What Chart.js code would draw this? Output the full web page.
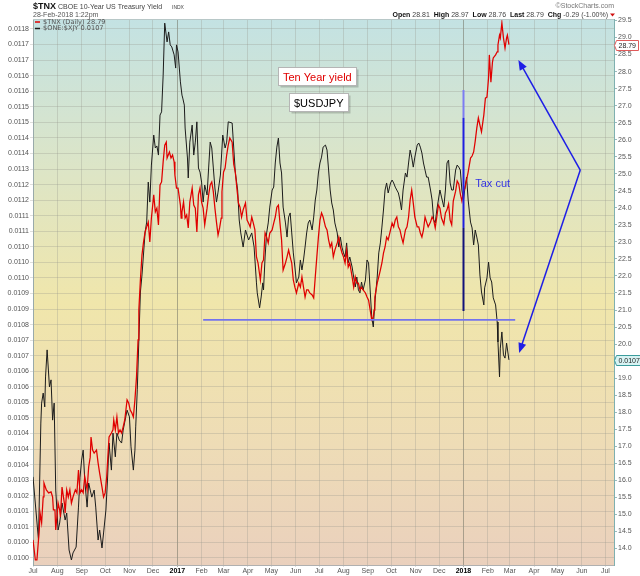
<!DOCTYPE html>
<html>
<head>
<meta charset="utf-8">
<script src="https://cdn.jsdelivr.net/npm/chart.js@4.4.1/dist/chart.umd.min.js"></script>
<style>
  html, body { margin: 0; padding: 0; background: #fff; }
  #wrap { width: 640px; height: 576px; }
</style>
</head>
<body>
<div id="wrap"><canvas id="chart" width="640" height="576"></canvas></div>
<script>
// x values are days counted from 1 Jul 2016
const tnxDays = [
  0,3,5,8,9,11,13,14,17,20,
  23,25,26,28,29,32,34,35,37,40,
  41,43,45,47,49,51,54,56,58,60,
  62,64,66,69,71,73,74,76,78,81,
  83,85,88,90,92,94,96,97,100,102,
  103,105,107,109,111,113,115,117,120,122,
  124,126,128,130,132,134,135,137,139,141,
  143,145,147,149,151,154,156,158,160,162,
  164,166,168,170,171,174,176,178,180,181,
  183,185,188,189,190,192,194,196,198,200,
  203,205,207,209,211,213,215,217,219,222,
  224,226,228,230,232,234,236,238,240,241,
  243,245,247,249,251,254,256,258,260,262,
  264,266,268,271,273,275,277,279,281,283,
  285,287,290,292,294,296,298,300,302,305,
  307,309,311,313,315,317,319,322,324,326,
  328,330,332,334,336,339,341,343,345,347,
  349,351,353,356,358,360,362,364,366,368,
  370,373,375,377,379,381,383,385,388,390,
  392,394,396,398,400,402,404,407,409,411,
  413,415,417,419,421,424,426,428,430,432,
  434,435,436,439,441,443,445,447,449,451,
  453,456,458,460,462,464,466,468,470,472,
  475,477,479,481,483,485,487,490,492,494,
  496,498,500,502,504,507,509,511,513,515,
  517,519,521,524,526,528,530,532,534,536,
  539,541,543,545,547,549,551,553,555,558,
  560,562,564,566,568,570,572,575,577,579,
  581,582,584,586,587,590,592,593,595,596,
  598,600,602,604,605,607
];
const tnxValues = [
  14.25,13.66,13.66,14.54,15.04,14.75,15.51,15.92,15.72,15.63,
  15.66,15.51,15.13,15.13,14.54,15.33,15.13,14.92,15.80,15.33,
  15.04,15.72,15.51,15.72,15.33,15.51,15.72,15.63,16.30,15.63,
  15.72,15.63,16.10,15.72,16.39,16.68,17.27,16.89,16.80,16.89,
  16.51,16.21,15.80,15.51,15.63,16.10,16.89,17.27,17.39,17.48,
  17.77,17.48,17.86,17.39,17.48,17.39,17.57,17.77,18.36,18.27,
  18.06,17.98,17.86,18.36,19.03,20.12,21.00,21.90,22.62,23.00,
  23.29,23.44,23.58,23.00,23.70,24.38,23.88,23.99,23.50,24.67,
  24.76,25.35,25.84,25.93,25.46,25.64,25.46,25.55,25.35,24.96,
  24.58,24.58,24.08,23.70,23.88,24.17,23.70,23.79,23.41,24.17,
  24.58,24.08,23.99,23.29,24.38,24.58,24.17,23.99,23.50,23.99,
  24.38,24.67,24.76,24.47,23.99,23.58,23.20,23.41,23.70,24.47,
  25.05,25.17,25.55,25.84,26.05,25.93,25.28,25.05,24.58,24.14,
  24.02,23.73,23.94,24.14,23.64,23.55,23.44,23.73,23.55,23.35,
  22.56,22.38,21.88,22.38,22.47,23.26,23.14,22.97,23.26,23.35,
  23.55,23.73,24.02,24.08,23.55,23.06,22.17,22.38,22.56,22.76,
  22.56,22.38,21.88,21.67,21.50,21.79,21.67,21.97,21.67,21.38,
  21.59,21.59,21.50,21.44,21.35,21.97,22.56,23.14,23.64,23.85,
  23.73,23.44,23.35,23.06,22.85,22.97,22.56,22.76,22.97,23.14,
  22.85,22.68,22.56,22.38,22.76,22.26,22.38,21.97,21.67,21.97,
  21.79,21.79,21.59,21.67,21.59,21.50,21.38,21.29,21.00,20.71,
  20.79,21.00,21.38,21.79,21.97,22.17,22.38,22.67,22.85,23.14,
  23.06,23.35,23.55,23.44,23.64,23.73,23.44,23.35,23.14,22.97,
  23.35,23.44,23.73,24.23,24.52,24.14,23.73,23.44,23.44,23.26,
  23.14,23.35,23.73,23.58,23.44,23.58,23.73,23.64,23.41,23.73,
  24.08,23.99,23.70,23.52,23.85,23.94,24.11,23.64,23.50,24.20,
  24.49,24.79,24.70,24.41,24.20,24.47,24.58,24.82,25.05,25.46,
  25.52,25.64,25.96,26.34,26.64,26.43,26.23,26.73,27.22,27.25,
  27.81,28.49,27.69,28.28,28.40,28.49,28.58,28.78,29.07,28.99,
  29.43,28.99,28.69,28.99,29.07,28.79
];
const xjyDays = [
  0,7,10,11,13,15,16,18,21,23,
  25,27,29,32,34,37,41,43,46,49,
  51,55,58,60,62,64,66,69,71,73,
  75,78,80,83,85,88,90,93,95,97,
  100,102,105,107,110,113,115,120,123,125,
  128,130,131,133,135,137,139,143,145,147,
  149,151,154,156,158,160,162,164,166,168,
  171,173,175,177,180,182,183,185,188,190,
  191,193,194,197,198,200,203,205,207,209,
  211,213,215,217,219,222,224,226,228,230,
  232,234,236,239,242,245,247,249,254,258,
  261,263,265,268,271,275,279,282,285,286,
  289,291,293,294,296,298,300,302,305,307,
  309,311,313,315,317,319,322,324,326,328,
  330,332,334,336,339,341,343,345,347,349,
  351,353,356,358,360,362,364,366,368,370,
  373,375,377,379,381,383,385,388,390,392,
  394,396,398,400,402,404,407,409,411,413,
  415,417,419,421,424,426,428,430,432,434,
  436,439,441,443,445,447,449,451,453,456,
  458,460,462,464,466,468,470,472,475,477,
  479,481,483,485,487,490,492,494,496,498,
  500,502,504,507,509,511,513,515,517,519,
  521,524,526,528,530,532,534,536,539,541,
  543,545,547,549,551,553,555,558,560,562,
  564,566,568,570,572,575,576,579,581,583,
  585,587,590,592,593,595,596,598,600,602,
  604,607
];
const xjyValues = [
  0.010276,0.010061,0.010459,0.010527,0.010561,0.010514,0.010616,0.010708,0.010582,0.010606,
  0.010469,0.010527,0.010231,0.010095,0.010119,0.010187,0.010129,0.010153,0.010027,0.009993,
  0.010017,0.010037,0.010173,0.010275,0.010333,0.010367,0.010265,0.010173,0.010255,0.010231,
  0.010207,0.010231,0.010173,0.010061,0.010095,0.010034,0.010085,0.010163,0.010265,0.010391,
  0.010299,0.010425,0.010344,0.010425,0.010401,0.010391,0.010435,0.010503,0.010480,0.010378,
  0.010299,0.010367,0.010446,0.010572,0.010742,0.010905,0.010963,0.011109,0.011143,0.011279,
  0.011211,0.011337,0.011439,0.011395,0.011402,0.011371,0.011507,0.011518,0.011643,0.011820,
  0.011756,0.011790,0.011746,0.011739,0.011712,0.011667,0.011746,0.011722,0.011620,0.011575,
  0.011565,0.011541,0.011463,0.011361,0.011293,0.011415,0.011473,0.011371,0.011415,0.011484,
  0.011327,0.011313,0.011279,0.011211,0.011269,0.011235,0.011327,0.011415,0.011395,0.011327,
  0.011259,0.011211,0.011245,0.011303,0.011439,0.011395,0.011415,0.011484,0.011480,0.011313,
  0.011252,0.011150,0.011106,0.011058,0.011116,0.011082,0.011106,0.011058,0.010936,0.010902,
  0.010851,0.010888,0.010936,0.010912,0.011024,0.011106,0.011140,0.011194,0.011252,0.011262,
  0.011344,0.011398,0.011429,0.011344,0.011310,0.011194,0.011140,0.011092,0.011160,0.011174,
  0.011106,0.011038,0.010990,0.010936,0.010956,0.011014,0.010980,0.011014,0.011058,0.011106,
  0.011140,0.011150,0.011116,0.011160,0.011218,0.011252,0.011310,0.011344,0.011364,0.011398,
  0.011405,0.011388,0.011320,0.011252,0.011208,0.011184,0.011140,0.011106,0.011058,0.011092,
  0.011058,0.011038,0.011024,0.011072,0.011004,0.011024,0.010990,0.010956,0.010922,0.010956,
  0.010912,0.010902,0.010939,0.010912,0.010946,0.011014,0.011004,0.010912,0.010820,0.010786,
  0.010868,0.010956,0.011038,0.011072,0.011126,0.011184,0.011252,0.011276,0.011242,0.011276,
  0.011286,0.011276,0.011262,0.011252,0.011242,0.011218,0.011184,0.011252,0.011310,0.011296,
  0.011344,0.011388,0.011364,0.011330,0.011364,0.011405,0.011412,0.011398,0.011378,0.011344,
  0.011320,0.011296,0.011296,0.011252,0.011218,0.011150,0.011140,0.011184,0.011218,0.011252,
  0.011228,0.011194,0.011252,0.011344,0.011354,0.011276,0.011252,0.011252,0.011320,0.011337,
  0.011330,0.011320,0.011252,0.011218,0.011262,0.011296,0.011218,0.011143,0.011123,0.011065,
  0.011116,0.011092,0.011065,0.010963,0.010905,0.010861,0.010919,0.010953,0.011007,0.010953,
  0.010939,0.010885,0.010861,0.010803,0.010735,0.010616,0.010714,0.010769,0.010691,0.010680,
  0.010731,0.010674
];

const monthDays = [0,31,62,92,123,153,184,215,243,274,304,335,365,396,427,457,488,518,549,580,608,639,669,700,730];
const monthLabels = ['Jul','Aug','Sep','Oct','Nov','Dec','2017','Feb','Mar','Apr','May','Jun','Jul','Aug','Sep','Oct','Nov','Dec','2018','Feb','Mar','Apr','May','Jun','Jul'];
// left axis labels, top to bottom, as printed
const leftTickLabels = ['0.0118','0.0117','0.0117','0.0116','0.0116','0.0115','0.0115','0.0114','0.0114','0.0113',
  '0.0112','0.0112','0.0111','0.0111','0.0110','0.0110','0.0110','0.0109','0.0109','0.0108',
  '0.0107','0.0107','0.0106','0.0106','0.0105','0.0105','0.0104','0.0104','0.0104','0.0103',
  '0.0102','0.0101','0.0101','0.0100','0.0100'];
const rightTickLabels = ['14.0','14.5','15.0','15.5','16.0','16.5','17.0','17.5','18.0','18.5','19.0','19.5',
  '20.0','20.5','21.0','21.5','22.0','22.5','23.0','23.5','24.0','24.5','25.0','25.5',
  '26.0','26.5','27.0','27.5','28.0','28.5','29.0','29.5'];

// annotations, in data units (day, right-axis value)
const noteBoxes = [
  { text: 'Ten Year yield', day: 313, value: 28.13, color: '#e00000' },
  { text: '$USDJPY', day: 327, value: 27.37, color: '#000000' }
];
const supportLine = { from: 217, to: 615, value: 20.71 };
const taxCut = { day: 548, parts: [[27.46, 26.64, '#7c7cf2'], [26.64, 23.41, '#1f1fe0'], [23.41, 20.97, '#12127a']],
  label: 'Tax cut', labelDay: 564, labelValue: 24.70 };
const arrows = { apex: [698, 25.11], tips: [[619, 28.34], [620, 19.74]] };

Chart.defaults.font.family = 'Arial, "Liberation Sans", sans-serif';

const isYear = i => /^\d{4}$/.test(monthLabels[i] || '');

const drawArrow = (ctx, x1, y1, x2, y2) => {
  const ang = Math.atan2(y2 - y1, x2 - x1);
  ctx.beginPath();
  ctx.moveTo(x1, y1);
  ctx.lineTo(x2 - 6 * Math.cos(ang), y2 - 6 * Math.sin(ang));
  ctx.stroke();
  ctx.beginPath();
  ctx.moveTo(x2, y2);
  ctx.lineTo(x2 - 10 * Math.cos(ang) + 4 * Math.sin(ang), y2 - 10 * Math.sin(ang) - 4 * Math.cos(ang));
  ctx.lineTo(x2 - 10 * Math.cos(ang) - 4 * Math.sin(ang), y2 - 10 * Math.sin(ang) + 4 * Math.cos(ang));
  ctx.closePath();
  ctx.fill();
};

const decor = {
  id: 'decor',
  beforeDraw(chart) {
    const { ctx, chartArea: a } = chart;
    ctx.save();
    ctx.fillStyle = '#fff';
    ctx.fillRect(0, 0, chart.width, chart.height);
    const g = ctx.createLinearGradient(0, a.top, 0, a.bottom);
    g.addColorStop(0, '#c3e2e3');
    g.addColorStop(0.28, '#dde5c6');
    g.addColorStop(0.52, '#f0e6ab');
    g.addColorStop(0.78, '#eedcb6');
    g.addColorStop(1, '#ead0bd');
    ctx.fillStyle = g;
    ctx.fillRect(a.left, a.top, a.right - a.left, a.bottom - a.top);
    ctx.restore();
  },
  afterDatasetsDraw(chart) {
    const { ctx } = chart;
    const sx = chart.scales.x, sr = chart.scales.yR;
    ctx.save();
    // support line
    ctx.strokeStyle = '#7373ee';
    ctx.lineWidth = 1.6;
    ctx.beginPath();
    ctx.moveTo(sx.getPixelForValue(supportLine.from), sr.getPixelForValue(supportLine.value));
    ctx.lineTo(sx.getPixelForValue(supportLine.to), sr.getPixelForValue(supportLine.value));
    ctx.stroke();
    // tax cut marker
    const tx = Math.round(sx.getPixelForValue(taxCut.day)) + 0.5;
    ctx.lineWidth = 2;
    taxCut.parts.forEach(([v1, v2, c]) => {
      ctx.strokeStyle = c;
      ctx.beginPath();
      ctx.moveTo(tx, sr.getPixelForValue(v1));
      ctx.lineTo(tx, sr.getPixelForValue(v2));
      ctx.stroke();
    });
    ctx.fillStyle = '#3434e2';
    ctx.font = '11px Arial';
    ctx.textBaseline = 'middle';
    ctx.fillText(taxCut.label, sx.getPixelForValue(taxCut.labelDay), sr.getPixelForValue(taxCut.labelValue));
    // arrows
    ctx.strokeStyle = '#1e1ee6';
    ctx.fillStyle = '#1e1ee6';
    ctx.lineWidth = 1.5;
    const ax = sx.getPixelForValue(arrows.apex[0]), ay = sr.getPixelForValue(arrows.apex[1]);
    arrows.tips.forEach(([d, v]) => drawArrow(ctx, ax, ay, sx.getPixelForValue(d), sr.getPixelForValue(v)));
    // text boxes
    ctx.font = '11px Arial';
    ctx.textBaseline = 'alphabetic';
    noteBoxes.forEach(b => {
      const x = Math.round(sx.getPixelForValue(b.day)) + 0.5;
      const y = Math.round(sr.getPixelForValue(b.value)) + 0.5;
      const w = Math.round(ctx.measureText(b.text).width) + 9;
      const h = 18;
      ctx.fillStyle = 'rgba(0,0,0,0.18)';
      ctx.fillRect(x + 2, y + 2, w, h);
      ctx.fillStyle = '#fff';
      ctx.fillRect(x, y, w, h);
      ctx.strokeStyle = '#b5b5b5';
      ctx.lineWidth = 1;
      ctx.strokeRect(x, y, w, h);
      ctx.fillStyle = b.color;
      ctx.fillText(b.text, x + 4.5, y + 13);
    });
    ctx.restore();
  },
  afterDraw(chart) {
    const { ctx, chartArea: a } = chart;
    ctx.save();
    // top edge of plot
    ctx.strokeStyle = '#b8c8c8';
    ctx.lineWidth = 1;
    ctx.beginPath();
    ctx.moveTo(a.left, a.top + 0.5);
    ctx.lineTo(a.right, a.top + 0.5);
    ctx.stroke();

    // header
    ctx.textBaseline = 'alphabetic';
    ctx.fillStyle = '#111';
    ctx.font = 'bold 9px Arial';
    ctx.fillText('$TNX', 33, 9);
    ctx.fillStyle = '#444';
    ctx.font = '7px Arial';
    ctx.fillText('CBOE 10-Year US Treasury Yield', 58, 9);
    ctx.font = '5px Arial';
    ctx.fillText('INDX', 172, 9);
    ctx.font = '7px Arial';
    ctx.fillStyle = '#555';
    ctx.fillText('28-Feb-2018 1:22pm', 33, 17);
    ctx.fillStyle = '#777';
    ctx.textAlign = 'right';
    ctx.fillText('\u00a9StockCharts.com', 614, 8);
    ctx.textAlign = 'left';
    const quote = [['Open ', true], ['28.81  ', false], ['High ', true], ['28.97  ', false], ['Low ', true], ['28.76  ', false],
      ['Last ', true], ['28.79  ', false], ['Chg ', true], ['-0.29 (-1.00%)', false]];
    let qw = 0;
    quote.forEach(([t, b]) => { ctx.font = (b ? 'bold ' : '') + '7px Arial'; qw += ctx.measureText(t).width; });
    let qx = 608 - qw;
    quote.forEach(([t, b]) => {
      ctx.font = (b ? 'bold ' : '') + '7px Arial';
      ctx.fillStyle = b ? '#111' : '#444';
      ctx.fillText(t, qx, 17);
      qx += ctx.measureText(t).width;
    });
    ctx.fillStyle = '#d01010';
    ctx.beginPath();
    ctx.moveTo(610, 13.5); ctx.lineTo(615, 13.5); ctx.lineTo(612.5, 16.5);
    ctx.closePath();
    ctx.fill();

    // legend inside plot
    const ds = chart.data.datasets;
    ctx.font = '6.6px "DejaVu Sans"';
    ctx.textBaseline = 'middle';
    [[ds[0], 22], [ds[1], 28.5]].forEach(([d, y]) => {
      ctx.strokeStyle = d.borderColor;
      ctx.lineWidth = 1.5;
      ctx.beginPath();
      ctx.moveTo(35, y); ctx.lineTo(40, y);
      ctx.stroke();
      ctx.fillStyle = '#555';
      ctx.fillText(d.label, 43, y);
    });

    // last-value tags on the right axis
    const tags = [
      [tnxValues[tnxValues.length - 1].toFixed(2), chart.scales.yR, tnxValues[tnxValues.length - 1], '#e05a5a', '#ffffff'],
      [xjyValues[xjyValues.length - 1].toFixed(4), chart.scales.yL, xjyValues[xjyValues.length - 1], '#3c9c9c', '#d7f3f3']
    ];
    ctx.font = '7px Arial';
    tags.forEach(([t, s, v, border, fill]) => {
      const y = Math.round(s.getPixelForValue(v)) + 0.5;
      const x = a.right + 2.5;
      const w = Math.round(ctx.measureText(t).width) + 4;
      ctx.fillStyle = fill;
      ctx.strokeStyle = border;
      ctx.lineWidth = 1;
      ctx.beginPath();
      ctx.moveTo(x - 2, y);
      ctx.lineTo(x, y - 5);
      ctx.lineTo(x + w, y - 5);
      ctx.lineTo(x + w, y + 5);
      ctx.lineTo(x, y + 5);
      ctx.closePath();
      ctx.fill();
      ctx.stroke();
      ctx.fillStyle = '#222';
      ctx.fillText(t, x + 2, y + 0.5);
    });
    ctx.restore();
  }
};

new Chart(document.getElementById('chart'), {
  type: 'line',
  data: {
    datasets: [
      {
        label: '$TNX (Daily) 28.79',
        data: tnxDays.map((d, i) => ({ x: d, y: tnxValues[i] })),
        yAxisID: 'yR',
        borderColor: '#e00000',
        borderWidth: 1.25,
        pointRadius: 0,
        tension: 0
      },
      {
        label: '$ONE:$XJY 0.0107',
        data: xjyDays.map((d, i) => ({ x: d, y: xjyValues[i] })),
        yAxisID: 'yL',
        borderColor: '#1c1c1c',
        borderWidth: 1,
        pointRadius: 0,
        tension: 0
      }
    ]
  },
  options: {
    responsive: false,
    animation: false,
    devicePixelRatio: 1,
    layout: { padding: { top: 19, left: 0, right: 0, bottom: 0 } },
    plugins: {
      legend: { display: false },
      tooltip: { enabled: false }
    },
    scales: {
      x: {
        type: 'linear',
        min: 0,
        max: 741,
        afterBuildTicks: s => { s.ticks = monthDays.map(d => ({ value: d })); },
        afterFit: s => { s.height = 11; },
        ticks: {
          autoSkip: false,
          maxRotation: 0,
          padding: 0,
          callback: (v, i) => monthLabels[i],
          color: c => isYear(c.index) ? '#000' : '#555',
          font: c => ({ size: 7, weight: isYear(c.index) ? 'bold' : 'normal' })
        },
        grid: {
          color: c => isYear(c.index) ? 'rgba(115,115,100,0.55)' : 'rgba(150,150,140,0.3)',
          tickLength: 2
        },
        border: { color: '#b0b0b0' }
      },
      yL: {
        type: 'linear',
        position: 'left',
        min: 0.009976,
        max: 0.011834,
        afterBuildTicks: s => {
          s.ticks = leftTickLabels.map((t, i) => ({ value: 0.0118 - i * 0.0018 / 34 }));
        },
        afterFit: s => { s.width = 33; },
        ticks: {
          autoSkip: false,
          padding: 1,
          color: '#555',
          font: { size: 7 },
          callback: (v, i) => leftTickLabels[i]
        },
        grid: { color: 'rgba(150,150,140,0.3)', tickLength: 3 },
        border: { color: '#9aa' }
      },
      yR: {
        type: 'linear',
        position: 'right',
        min: 13.513,
        max: 29.544,
        afterBuildTicks: s => { s.ticks = rightTickLabels.map(t => ({ value: parseFloat(t) })); },
        afterFit: s => { s.width = 26; },
        ticks: {
          autoSkip: false,
          padding: 1,
          color: '#555',
          font: { size: 7 },
          callback: (v, i) => rightTickLabels[i]
        },
        grid: { drawOnChartArea: false, tickLength: 3, color: '#9bb' },
        border: { color: '#7fb0b0', dash: [1, 1] }
      }
    }
  },
  plugins: [decor]
});
</script>
</body>
</html>
